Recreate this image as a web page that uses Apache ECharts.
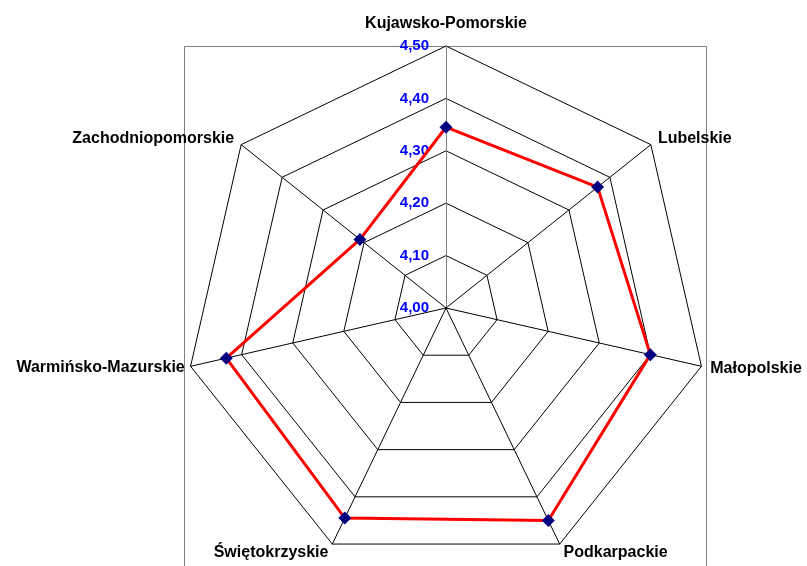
<!DOCTYPE html>
<html>
<head>
<meta charset="utf-8">
<script src="https://cdn.jsdelivr.net/npm/echarts@6/dist/echarts.min.js"></script>
<style>
html,body{margin:0;padding:0;background:#fff;}
#chart{width:807px;height:566px;}
</style>
</head>
<body>
<div id="chart"></div>
<script>
// Categories listed clockwise starting from the top axis
const categories = ['Kujawsko-Pomorskie','Lubelskie','Małopolskie','Podkarpackie','Świętokrzyskie','Warmińsko-Mazurskie','Zachodniopomorskie'];
const values = [4.345, 4.37, 4.40, 4.45, 4.445, 4.43, 4.21];
const axisMin = 4.00;
const axisMax = 4.50;
const splitCount = 5;
const tickLabels = ['4,00','4,10','4,20','4,30','4,40','4,50'];

// ECharts radar runs counter-clockwise: keep first, reverse the rest
const order = [0].concat(categories.map((_, i) => i).slice(1).reverse());

const indicator = order.map((i, k) => {
  const ind = { name: categories[i], min: axisMin, max: axisMax, nameGap: k === 0 ? 14 : 9 };
  if (categories[i] === 'Warmińsko-Mazurskie') ind.nameGap = 6;
  if (k === 0) {
    ind.axisLabel = {
      show: true,
      color: '#0000FF',
      fontWeight: 'bold',
      fontSize: 15,
      fontFamily: 'Liberation Sans, Arial, sans-serif',
      margin: 17,
      formatter: function (v) {
        const idx = Math.round((v - axisMin) / ((axisMax - axisMin) / splitCount));
        return tickLabels[idx] !== undefined ? tickLabels[idx] : '';
      }
    };
    ind.axisLine = { show: true, lineStyle: { color: '#808080', width: 1 } };
  }
  return ind;
});

const chart = echarts.init(document.getElementById('chart'), null, { renderer: 'canvas' });
chart.setOption({
  backgroundColor: '#ffffff',
  animation: false,
  graphic: [{
    type: 'rect',
    z: -10,
    silent: true,
    shape: { x: 184.5, y: 46.5, width: 522, height: 600 },
    style: { fill: 'none', stroke: '#808080', lineWidth: 1 }
  }],
  radar: {
    center: [446, 308],
    radius: 262,
    startAngle: 90,
    splitNumber: splitCount,
    shape: 'polygon',
    indicator: indicator,
    axisName: {
      color: '#000000',
      fontWeight: 'bold',
      fontSize: 16,
      fontFamily: 'Liberation Sans, Arial, sans-serif'
    },
    axisLine: { show: true, lineStyle: { color: '#000000', width: 1 } },
    axisTick: { show: false },
    axisLabel: { show: false },
    splitLine: { show: true, lineStyle: { color: '#000000', width: 1 } },
    splitArea: { show: false }
  },
  series: [{
    type: 'radar',
    symbol: 'diamond',
    symbolSize: 13,
    itemStyle: { color: '#000080' },
    lineStyle: { color: '#FF0000', width: 3 },
    data: [{ value: order.map(i => values[i]) }]
  }]
});
</script>
</body>
</html>
